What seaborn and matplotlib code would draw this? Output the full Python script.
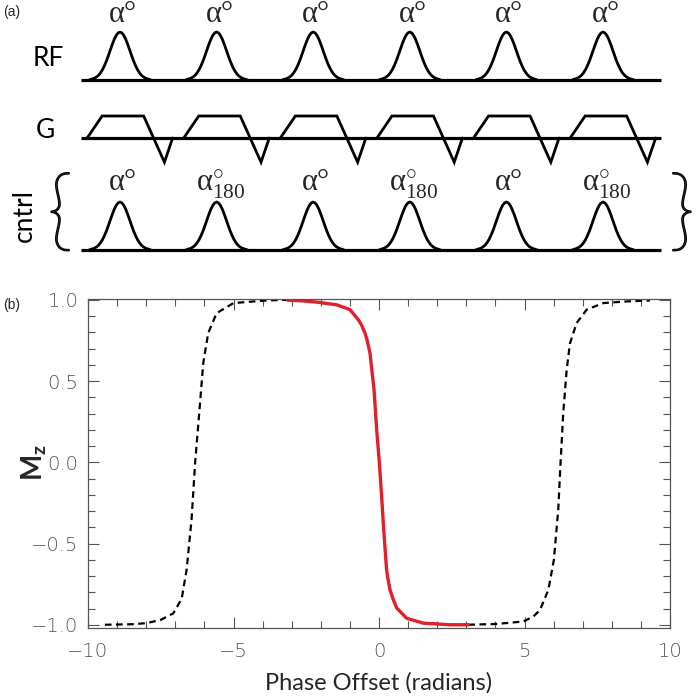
"""Pulse sequence sketch (a) and Mz versus phase offset (b)."""
import matplotlib
matplotlib.use("Agg")
import matplotlib.patheffects as pe
import matplotlib.pyplot as plt
import numpy as np
import pandas as pd
import seaborn as sns
from matplotlib.ticker import FuncFormatter, MultipleLocator

# ---- panel (b): Mz vs phase offset
red_x = [-3.14, -2.6, -2.14, -1.45, -1.0, -0.71, -0.6, -0.48, -0.4, -0.31, -0.17,
         -0.08, 0.01, 0.09, 0.17, 0.26, 0.3, 0.38, 0.48, 0.61, 0.95, 1.52, 2.44, 3.07]
red_y = [0.998, 0.993, 0.986, 0.969, 0.94, 0.877, 0.845, 0.795, 0.745, 0.672, 0.446,
         0.2, 0.005, -0.21, -0.436, -0.66, -0.71, -0.785, -0.84, -0.897, -0.96, -0.99, -1.0, -1.0]

left_x = [-9.42, -8.5, -7.98, -7.5, -7.07, -6.78, -6.61, -6.44, -6.32, -6.17, -6.04,
          -5.87, -5.58, -5.0, -4.3, -3.86, -3.14]
left_y = [-1.0, -0.997, -0.99, -0.97, -0.93, -0.84, -0.66, -0.35, -0.005, 0.32, 0.61,
          0.795, 0.918, 0.98, 0.99, 0.996, 1.0]

right_x = [3.07, 4.04, 4.96, 5.3, 5.53, 5.82, 6.01, 6.16, 6.24, 6.33, 6.45, 6.56,
           6.79, 7.14, 7.71, 8.5, 9.31]
right_y = [-1.0, -0.995, -0.98, -0.95, -0.91, -0.785, -0.6, -0.29, 0.0, 0.30, 0.57, 0.73,
           0.857, 0.94, 0.98, 0.99, 0.996]

# ---- panel (a): sequence diagram, time in units of TR
pulse_times = [0, 1, 2, 3, 4, 5]
rf_labels = ["α°"] * 6
cntrl_labels = ["α°", "α°180", "α°", "α°180", "α°", "α°180"]
# half of the RF pulse envelope (offset in TR, relative height)
pulse_half_dt = [0.0, 0.02, 0.04, 0.06, 0.08, 0.10, 0.12, 0.14, 0.16, 0.18, 0.20,
                 0.22, 0.24, 0.26, 0.28, 0.30, 0.32]
pulse_half_amp = [1.0, 0.98, 0.928, 0.845, 0.742, 0.627, 0.511, 0.400, 0.303, 0.220,
                  0.155, 0.104, 0.068, 0.043, 0.026, 0.015, 0.0]
# gradient lobe corners relative to each pulse (TR, relative amplitude)
grad_dt = [-0.34, -0.185, 0.245, 0.46, 0.545]
grad_amp = [0.0, 1.0, 1.0, -1.1, 0.0]
baseline_span = [-0.40, 5.60]

sns.set_style("ticks")
plt.rcParams["font.family"] = ["DejaVu Sans"]
plt.rcParams["mathtext.fontset"] = "custom"
plt.rcParams["mathtext.rm"] = "Liberation Serif"
plt.rcParams["mathtext.it"] = "Liberation Serif:italic"

W, H = 700, 699
fig = plt.figure(figsize=(W / 100, H / 100), dpi=100)

# ================= (a)
ax_a = fig.add_axes([0, 1 - 265 / H, 1, 265 / H])
ax_a.set_xlim(-120 / 96.6, 580 / 96.6)
ax_a.set_ylim(265, 0)
ax_a.axis("off")

rows = {"RF": (80, 48), "G": (138, 22), "cntrl": (250, 48)}
lw_a = 2.0
pulse_dt = np.concatenate([-np.array(pulse_half_dt[::-1]), np.array(pulse_half_dt[1:])])
pulse_amp = np.concatenate([np.array(pulse_half_amp[::-1]), np.array(pulse_half_amp[1:])])

for name, (base, amp) in rows.items():
    ax_a.plot(baseline_span, [base, base], color="black", lw=lw_a + 0.3,
              solid_capstyle="butt")
    for t in pulse_times:
        if name == "G":
            ax_a.plot(t + np.array(grad_dt), base - amp * np.array(grad_amp),
                      color="black", lw=lw_a, solid_joinstyle="miter")
        else:
            ax_a.plot(t + pulse_dt, base - amp * pulse_amp, color="black", lw=lw_a)

serif = "Liberation Serif"
for t, lab in zip(pulse_times, rf_labels):
    ax_a.text(t + 0.03, 14, lab, ha="center", va="center", fontsize=22, family=serif)
for t, lab in zip(pulse_times, cntrl_labels):
    if lab.endswith("180"):
        ax_a.text(t + 0.04, 185, r"$\mathrm{α}^{\circ}_{\mathit{180}}$", ha="center",
                  va="center", fontsize=22)
    else:
        ax_a.text(t + 0.03, 183, lab, ha="center", va="center", fontsize=22, family=serif)

lab_font = dict(family=["Lato", "DejaVu Sans"], fontsize=19, color="black")
ax_a.text(-72 / 96.6, 58, "RF", ha="center", va="center", **lab_font)
ax_a.text(-75 / 96.6, 130, "G", ha="center", va="center", **lab_font)
ax_a.text(-96 / 96.6, 215, "cntrl", ha="center", va="center", rotation=90, **lab_font)
brace_font = dict(family=["Lato", "DejaVu Sans"], fontsize=64, fontweight="light",
                  path_effects=[pe.withStroke(linewidth=1.3, foreground="black")])
ax_a.text(-60 / 96.6, 216, "{", ha="center", va="center", **brace_font)
ax_a.text(562 / 96.6, 216, "}", ha="center", va="center", **brace_font)

fig.text(3 / W, 1 - 12 / H, "(a)", ha="left", va="center", fontsize=10,
         family="Liberation Sans")
fig.text(3 / W, 1 - 305 / H, "(b)", ha="left", va="center", fontsize=10,
         family="Liberation Sans")

# ================= (b)
ax_b = fig.add_axes([88 / W, 1 - 628 / H, 582 / W, 329 / H])
red = pd.DataFrame({"phase": red_x, "mz": red_y})
dash = pd.concat([
    pd.DataFrame({"phase": left_x, "mz": left_y, "side": "left"}),
    pd.DataFrame({"phase": right_x, "mz": right_y, "side": "right"}),
])
sns.lineplot(data=dash, x="phase", y="mz", units="side", estimator=None, sort=False,
             color="black", lw=1.6, linestyle=(0, (3, 2)), ax=ax_b)
sns.lineplot(data=red, x="phase", y="mz", estimator=None, sort=False,
             color="#e0202a", lw=2.4, ax=ax_b)

ax_b.set_xlim(-10, 10)
ax_b.set_ylim(-1.02, 1.005)
ax_b.xaxis.set_major_locator(MultipleLocator(5))
ax_b.xaxis.set_minor_locator(MultipleLocator(1))
ax_b.yaxis.set_major_locator(MultipleLocator(0.5))
ax_b.yaxis.set_minor_locator(MultipleLocator(0.1))
ax_b.yaxis.set_major_formatter(
    FuncFormatter(lambda v, _: f"{v:.1f}".replace("-", "\u2212")))
gray = "#555555"
ax_b.tick_params(which="both", direction="in", top=True, right=True, color=gray,
                 width=0.8, labelcolor=gray, labelsize=14)
ax_b.tick_params(which="major", length=8)
ax_b.tick_params(which="minor", length=5)
ax_b.tick_params(axis="x", pad=10)
ax_b.tick_params(axis="y", pad=7)
for lab in ax_b.get_xticklabels() + ax_b.get_yticklabels():
    lab.set_fontweight("light")
for sp in ax_b.spines.values():
    sp.set_color(gray)
    sp.set_linewidth(0.9)
ax_b.set_xlabel("")
ax_b.set_ylabel("")

fig.text(379 / W, 1 - 683 / H, "Phase Offset (radians)", ha="center", va="center",
         family=["Lato", "DejaVu Sans"], fontsize=17)
fig.text(34 / W, 1 - 463 / H, r"$\mathregular{M_z}$", ha="center", va="center",
         rotation=90, family=["Lato", "DejaVu Sans"], fontsize=20, fontweight="bold")

fig.savefig("out.png", dpi=100)
